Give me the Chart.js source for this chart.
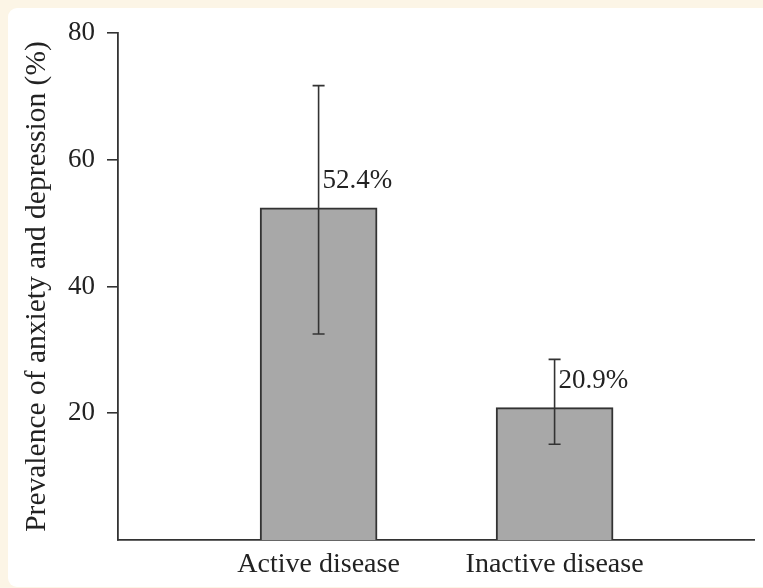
<!DOCTYPE html>
<html>
<head>
<meta charset="utf-8">
<script src="https://cdn.jsdelivr.net/npm/chart.js@4.4.1/dist/chart.umd.min.js"></script>
<style>
  html, body { margin: 0; padding: 0; }
  body { width: 763px; height: 588px; background: #fcf5e6; position: relative; overflow: hidden; }
  #panel { position: absolute; left: 8px; top: 8px; width: 780px; height: 579px; background: #ffffff; border-radius: 9px; }
  #wrap { position: absolute; left: 0; top: 0; width: 763px; height: 588px; }
</style>
</head>
<body>
<div id="panel"></div>
<div id="wrap"><canvas id="c" width="763" height="588"></canvas></div>
<script>
const categories = ['Active disease', 'Inactive disease'];
const prevalence = [52.4, 20.9];
const ciLow = [32.5, 15.1];
const ciHigh = [71.7, 28.5];
const valueLabels = ['52.4%', '20.9%'];
const yTickValues = [20, 40, 60, 80];
const yTitle = 'Prevalence of anxiety and depression (%)';

const FONT = "'Liberation Serif', 'Times New Roman', serif";
const INK = '#222222';

const errorBarPlugin = {
  id: 'errorBars',
  afterDatasetsDraw(chart) {
    const ctx = chart.ctx;
    const xs = chart.scales.x, ys = chart.scales.y;
    ctx.save();
    ctx.strokeStyle = '#333333';
    ctx.lineWidth = 1.6;
    prevalence.forEach((v, i) => {
      const x = xs.getPixelForValue(i + 1);
      const yl = ys.getPixelForValue(ciLow[i]);
      const yh = ys.getPixelForValue(ciHigh[i]);
      ctx.beginPath();
      ctx.moveTo(x, yl); ctx.lineTo(x, yh);
      ctx.moveTo(x - 6, yl); ctx.lineTo(x + 6, yl);
      ctx.moveTo(x - 6, yh); ctx.lineTo(x + 6, yh);
      ctx.stroke();
      ctx.fillStyle = INK;
      ctx.font = "27px " + FONT;
      ctx.textAlign = 'left';
      ctx.textBaseline = 'middle';
      ctx.fillText(valueLabels[i], x + 4, ys.getPixelForValue(v) - 27);
    });
    ctx.restore();
  }
};

new Chart(document.getElementById('c'), {
  type: 'bar',
  data: {
    datasets: [{
      data: prevalence.map((v, i) => ({ x: i + 1, y: v })),
      backgroundColor: '#a8a8a8',
      borderColor: '#333333',
      borderWidth: 2,
      barThickness: 117
    }]
  },
  options: {
    responsive: false,
    animation: false,
    devicePixelRatio: 1,
    layout: { padding: { top: 33, right: 9, left: 0, bottom: 0 } },
    plugins: { legend: { display: false }, tooltip: { enabled: false } },
    scales: {
      x: {
        type: 'linear',
        offset: false,
        min: 0.15,
        max: 2.845,
        afterBuildTicks: (s) => { s.ticks = categories.map((c, i) => ({ value: i + 1 })); },
        afterFit: (s) => { s.height = 48; },
        grid: { display: false, drawTicks: false, offset: false },
        border: { display: true, color: '#333333', width: 1.8 },
        ticks: {
          autoSkip: false,
          maxRotation: 0,
          padding: 8,
          color: INK,
          font: { family: FONT, size: 28 },
          callback: (v) => categories[v - 1] ?? ''
        }
      },
      y: {
        min: 0,
        max: 80,
        afterBuildTicks: (s) => { s.ticks = yTickValues.map(v => ({ value: v })); },
        afterFit: (s) => { s.width = 118; },
        grid: { display: true, drawOnChartArea: false, drawTicks: true, tickLength: 11, color: '#333333', lineWidth: 1.6 },
        border: { display: true, color: '#333333', width: 1.8 },
        ticks: {
          padding: 12,
          color: INK,
          font: { family: FONT, size: 27 }
        },
        title: {
          display: true,
          text: yTitle,
          color: INK,
          font: { family: FONT, size: 29.5 },
          padding: { top: 20, bottom: 0 }
        }
      }
    }
  },
  plugins: [errorBarPlugin]
});
</script>
</body>
</html>
